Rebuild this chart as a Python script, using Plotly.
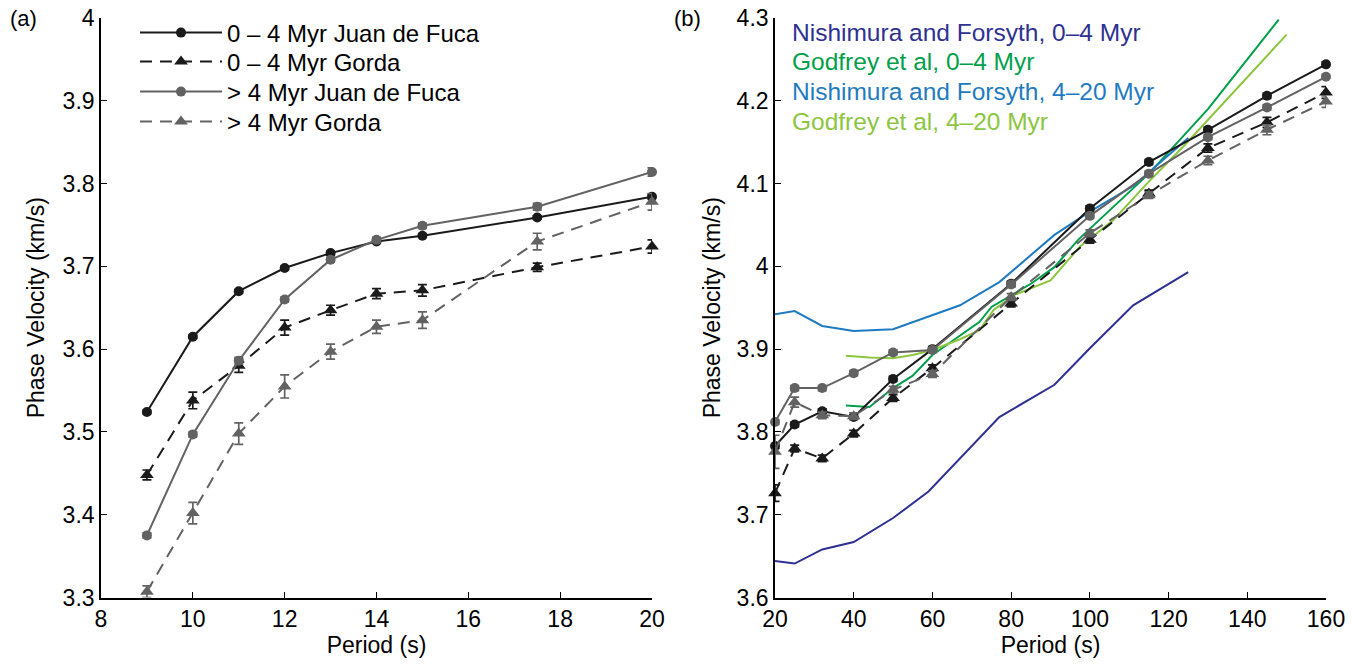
import plotly.graph_objects as go

# ---------------- Panel (a) data ----------------
periods_a = [9, 10, 11, 12, 13, 14, 15, 17.5, 20]
jdf_young_a = [3.524, 3.615, 3.670, 3.698, 3.716, 3.730, 3.737, 3.759, 3.784]
jdf_young_a_err = [0.002, 0.002, 0.002, 0.002, 0.002, 0.002, 0.002, 0.002, 0.003]
gorda_young_a = [3.448, 3.538, 3.580, 3.626, 3.647, 3.667, 3.671, 3.699, 3.724]
gorda_young_a_err = [0.006, 0.010, 0.008, 0.009, 0.006, 0.006, 0.007, 0.005, 0.008]
jdf_old_a = [3.375, 3.497, 3.586, 3.660, 3.708, 3.732, 3.749, 3.772, 3.814]
jdf_old_a_err = [0.003, 0.003, 0.004, 0.003, 0.003, 0.003, 0.003, 0.004, 0.005]
gorda_old_a = [3.307, 3.402, 3.498, 3.555, 3.597, 3.627, 3.635, 3.730, 3.778]
gorda_old_a_err = [0.007, 0.013, 0.013, 0.014, 0.009, 0.008, 0.010, 0.010, 0.010]

# ---------------- Panel (b) data ----------------
periods_b = [20, 25, 32, 40, 50, 60, 80, 100, 115, 130, 145, 160]
jdf_young_b = [3.783, 3.809, 3.825, 3.818, 3.864, 3.900, 3.979, 4.070, 4.126, 4.165, 4.206, 4.244]
jdf_young_b_err = [0.003] * 12
gorda_young_b = [3.726, 3.780, 3.768, 3.798, 3.841, 3.877, 3.955, 4.032, 4.088, 4.143, 4.174, 4.210]
gorda_young_b_err = [0.010, 0.004, 0.004, 0.004, 0.004, 0.004, 0.004, 0.004, 0.004, 0.005, 0.006, 0.007]
jdf_old_b = [3.812, 3.853, 3.853, 3.871, 3.896, 3.899, 3.978, 4.061, 4.112, 4.156, 4.192, 4.229]
jdf_old_b_err = [0.003] * 12
gorda_old_b = [3.776, 3.836, 3.820, 3.819, 3.851, 3.870, 3.963, 4.040, 4.086, 4.128, 4.165, 4.199]
gorda_old_b_err = [0.020, 0.006, 0.004, 0.004, 0.004, 0.004, 0.004, 0.004, 0.004, 0.005, 0.006, 0.007]

nf_young_period = [20, 25, 32, 40, 50, 59, 77, 91, 100, 111, 125]
nf_young_vel = [3.644, 3.641, 3.658, 3.667, 3.696, 3.728, 3.818, 3.857, 3.901, 3.953, 3.993]
godfrey_young_period = [38, 44, 50, 55, 60, 65, 72, 75, 85, 91, 97, 115, 130, 148]
godfrey_young_vel = [3.832, 3.830, 3.853, 3.868, 3.893, 3.910, 3.933, 3.951, 3.979, 3.999, 4.032, 4.112, 4.190, 4.298]
nf_old_period = [20, 25, 32, 40, 50, 59, 67, 77, 91, 100, 111, 125]
nf_old_vel = [3.942, 3.946, 3.928, 3.922, 3.924, 3.939, 3.953, 3.981, 4.038, 4.066, 4.097, 4.155]
godfrey_old_period = [38, 44, 50, 55, 60, 67, 72, 75.5, 80.6, 90, 97.5, 106, 114.5, 124, 150]
godfrey_old_vel = [3.892, 3.890, 3.889, 3.893, 3.899, 3.912, 3.923, 3.947, 3.965, 3.983, 4.024, 4.056, 4.100, 4.146, 4.280]

# tick definitions
xticks_a = [8, 10, 12, 14, 16, 18, 20]
yticks_a = [3.3, 3.4, 3.5, 3.6, 3.7, 3.8, 3.9, 4.0]
yticktext_a = ["3.3", "3.4", "3.5", "3.6", "3.7", "3.8", "3.9", "4"]
xticks_b = [20, 40, 60, 80, 100, 120, 140, 160]
yticks_b = [3.6, 3.7, 3.8, 3.9, 4.0, 4.1, 4.2, 4.3]
yticktext_b = ["3.6", "3.7", "3.8", "3.9", "4", "4.1", "4.2", "4.3"]

legend_a_names = ["0 \u2013 4 Myr Juan de Fuca", "0 \u2013 4 Myr Gorda",
                  "> 4 Myr Juan de Fuca", "> 4 Myr Gorda"]
ref_names = ["Nishimura and Forsyth, 0\u20134 Myr", "Godfrey et al, 0\u20134 Myr",
             "Nishimura and Forsyth, 4\u201320 Myr", "Godfrey et al, 4\u201320 Myr"]

BLACK = "#1a1a1a"
GRAY = "#626262"
C_NF_Y = "#2e3192"
C_GF_Y = "#00a04b"
C_NF_O = "#1f7bc1"
C_GF_O = "#8cc63f"
FONT = "Liberation Sans, Arial, Helvetica, sans-serif"
DASH = "12px,8px"

fig = go.Figure()


def add_series(x, y, err, name, color, dash, symbol, xa, ya, legend_id):
    fig.add_trace(go.Scatter(
        x=x, y=y, mode="lines+markers", name=name,
        line=dict(color=color, width=2, dash=dash),
        marker=dict(symbol=symbol, size=12 if symbol.startswith("triangle") else 10, color=color),
        error_y=dict(type="data", array=err, color=color, thickness=1.7, width=4.5),
        xaxis=xa, yaxis=ya, showlegend=legend_id is not None,
        legend=legend_id if legend_id else "legend", cliponaxis=False))


def add_ref(x, y, color):
    fig.add_trace(go.Scatter(x=x, y=y, mode="lines", line=dict(color=color, width=2),
                             xaxis="x2", yaxis="y2", showlegend=False, cliponaxis=False))


# panel (a)
add_series(periods_a, jdf_young_a, jdf_young_a_err, legend_a_names[0], BLACK, "solid", "circle", "x", "y", "legend")
add_series(periods_a, gorda_young_a, gorda_young_a_err, legend_a_names[1], BLACK, DASH, "triangle-up", "x", "y", "legend2")
add_series(periods_a, jdf_old_a, jdf_old_a_err, legend_a_names[2], GRAY, "solid", "circle", "x", "y", "legend3")
add_series(periods_a, gorda_old_a, gorda_old_a_err, legend_a_names[3], GRAY, DASH, "triangle-up", "x", "y", "legend4")

# panel (b) reference curves
add_ref(nf_young_period, nf_young_vel, C_NF_Y)
add_ref(godfrey_young_period, godfrey_young_vel, C_GF_Y)
add_ref(nf_old_period, nf_old_vel, C_NF_O)
add_ref(godfrey_old_period, godfrey_old_vel, C_GF_O)

# panel (b) measurements
add_series(periods_b, jdf_young_b, jdf_young_b_err, legend_a_names[0], BLACK, "solid", "circle", "x2", "y2", None)
add_series(periods_b, gorda_young_b, gorda_young_b_err, legend_a_names[1], BLACK, DASH, "triangle-up", "x2", "y2", None)
add_series(periods_b, jdf_old_b, jdf_old_b_err, legend_a_names[2], GRAY, "solid", "circle", "x2", "y2", None)
add_series(periods_b, gorda_old_b, gorda_old_b_err, legend_a_names[3], GRAY, DASH, "triangle-up", "x2", "y2", None)

W, H = 1358, 665
axis_common = dict(showline=True, linecolor="black", linewidth=1.6, ticks="inside",
                   ticklen=6, tickwidth=1.4, tickcolor="black", showgrid=False,
                   zeroline=False, mirror=False, automargin=False,
                   tickfont=dict(size=23, family=FONT, color="black"))


def legend_box(row_y):
    return dict(x=135 / W, y=1 - row_y / H, xanchor="left", yanchor="middle",
                bgcolor="rgba(0,0,0,0)", borderwidth=0,
                font=dict(size=24, family=FONT, color="black"),
                itemwidth=82, tracegroupgap=0)


legend_rows = [33, 62, 92, 122]

fig.update_layout(
    width=W, height=H, autosize=False,
    margin=dict(l=0, r=0, t=0, b=0),
    paper_bgcolor="white", plot_bgcolor="white",
    font=dict(family=FONT, color="black", size=23),
    xaxis=dict(domain=[101 / W, 652 / W], range=[8, 20], tickvals=xticks_a, anchor="y",
               title=dict(text="Period (s)", font=dict(size=23), standoff=6), **axis_common),
    yaxis=dict(domain=[67.5 / H, 647 / H], range=[3.3, 4.0], tickvals=yticks_a, ticktext=yticktext_a,
               anchor="x", title=dict(text="Phase Velocity (km/s)", font=dict(size=23), standoff=12),
               **axis_common),
    xaxis2=dict(domain=[775 / W, 1326 / W], range=[20, 160], tickvals=xticks_b, anchor="y2",
                title=dict(text="Period (s)", font=dict(size=23), standoff=6), **axis_common),
    yaxis2=dict(domain=[67.5 / H, 647 / H], range=[3.6, 4.3], tickvals=yticks_b, ticktext=yticktext_b,
                anchor="x2", title=dict(text="Phase Velocity (km/s)", font=dict(size=23), standoff=10),
                **axis_common),
    legend=legend_box(legend_rows[0]),
    legend2=legend_box(legend_rows[1]),
    legend3=legend_box(legend_rows[2]),
    legend4=legend_box(legend_rows[3]),
    showlegend=True,
)

# panel labels
fig.add_annotation(text="(a)", x=8 / W, y=1 - 18 / H, xref="paper", yref="paper",
                   xanchor="left", yanchor="middle", showarrow=False, font=dict(size=22))
fig.add_annotation(text="(b)", x=672 / W, y=1 - 18 / H, xref="paper", yref="paper",
                   xanchor="left", yanchor="middle", showarrow=False, font=dict(size=22))

# colored text legend of panel (b)
ref_colors = [C_NF_Y, C_GF_Y, C_NF_O, C_GF_O]
ref_rows = [33, 62, 92, 122]
for name, col, row in zip(ref_names, ref_colors, ref_rows):
    fig.add_annotation(text=name, x=790 / W, y=1 - row / H, xref="paper", yref="paper",
                       xanchor="left", yanchor="middle", showarrow=False,
                       font=dict(size=24.5, color=col))

fig.write_html("out.html")
